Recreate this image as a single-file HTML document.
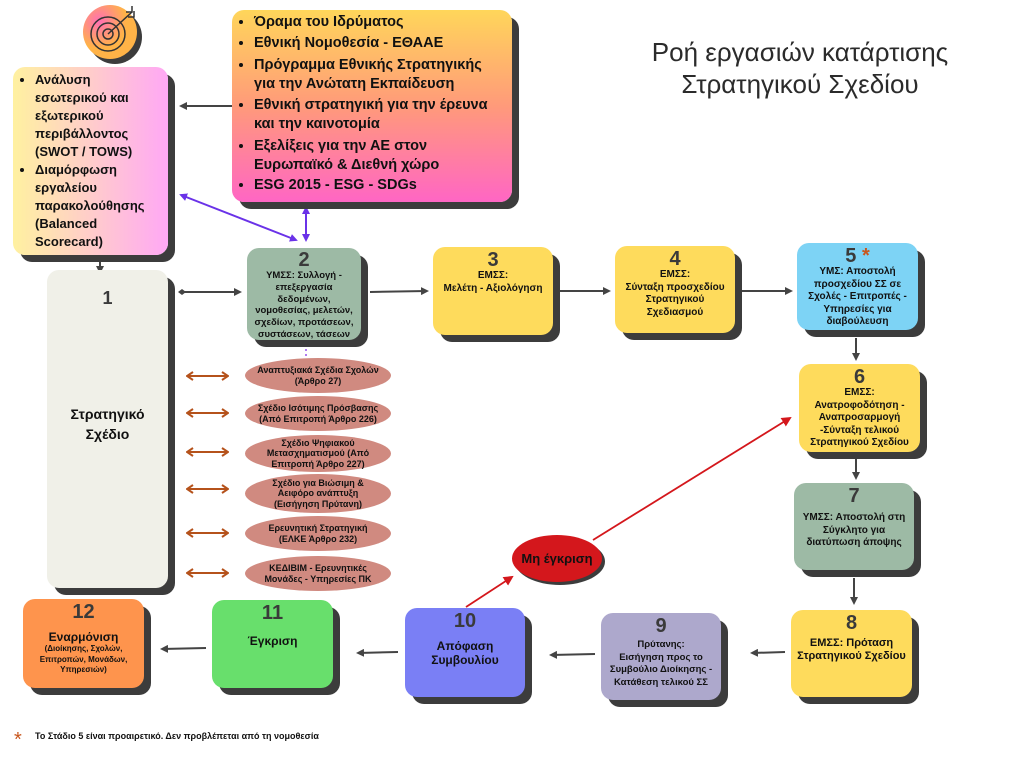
<!DOCTYPE html>
<html><head><meta charset="utf-8"><style>
body{margin:0;width:1024px;height:768px;background:#fff;position:relative;overflow:hidden;font-family:"Liberation Sans","Noto Sans CJK SC",sans-serif;color:#111}
.b{position:absolute;border-radius:12px;box-shadow:7px 7px 0 #3c3c3c;text-align:center;font-weight:bold;font-size:10px;line-height:12.5px;box-sizing:border-box;padding:2px 3px;overflow:hidden}
.n{font-size:20px;line-height:20px;color:#3a3a3a;display:block;margin-top:1px}
.ov{position:absolute;left:245px;width:146px;height:35px;border-radius:50%;background:#d08a80;font-size:9px;font-weight:bold;line-height:10.5px;text-align:center;display:flex;align-items:center;justify-content:center;box-sizing:border-box;padding:0 12px}
ul{margin:0;padding-left:18px}
li{margin:0}
svg{position:absolute;left:0;top:0}
</style></head><body>
<svg width="1024" height="768">
<defs>
<marker id="ad" markerUnits="userSpaceOnUse" markerWidth="8" markerHeight="8" refX="6" refY="4" orient="auto"><path d="M0,0 L8,4 L0,8 z" fill="#444"/></marker>
<marker id="ap" markerUnits="userSpaceOnUse" markerWidth="8" markerHeight="8" refX="6" refY="4" orient="auto-start-reverse"><path d="M0,0 L8,4 L0,8 z" fill="#6a32e8"/></marker>
<marker id="ao" markerUnits="userSpaceOnUse" markerWidth="8" markerHeight="10" refX="7" refY="5" orient="auto-start-reverse"><path d="M1,1 L7,5 L1,9" fill="none" stroke="#b5521b" stroke-width="2"/></marker>
<marker id="ar" markerUnits="userSpaceOnUse" markerWidth="10" markerHeight="10" refX="8" refY="5" orient="auto"><path d="M0,0 L10,5 L0,10 z" fill="#d4171c"/></marker>
<marker id="dk" markerUnits="userSpaceOnUse" markerWidth="8" markerHeight="8" refX="4" refY="4" orient="auto"><path d="M0,4 L4,1 L8,4 L4,7 z" fill="#444"/></marker>
<radialGradient id="tg" cx="30%" cy="30%"><stop offset="0" stop-color="#ff6fb5"/><stop offset="1" stop-color="#ffb347"/></radialGradient>
</defs>
<g stroke="#444" stroke-width="2" fill="none">
<line x1="232" y1="106" x2="181" y2="106" marker-end="url(#ad)"/>
<line x1="100" y1="258" x2="100" y2="272" marker-end="url(#ad)"/>
<line x1="182" y1="292" x2="240" y2="292" marker-start="url(#dk)" marker-end="url(#ad)"/>
<line x1="370" y1="292" x2="427" y2="291" marker-end="url(#ad)"/>
<line x1="560" y1="291" x2="609" y2="291" marker-end="url(#ad)"/>
<line x1="742" y1="291" x2="791" y2="291" marker-end="url(#ad)"/>
<line x1="856" y1="338" x2="856" y2="359" marker-end="url(#ad)"/>
<line x1="856" y1="459" x2="856" y2="478" marker-end="url(#ad)"/>
<line x1="854" y1="578" x2="854" y2="603" marker-end="url(#ad)"/>
<line x1="785" y1="652" x2="752" y2="653" marker-end="url(#ad)"/>
<line x1="595" y1="654" x2="551" y2="655" marker-end="url(#ad)"/>
<line x1="398" y1="652" x2="358" y2="653" marker-end="url(#ad)"/>
<line x1="206" y1="648" x2="162" y2="649" marker-end="url(#ad)"/>
</g>
<g stroke="#6a32e8" stroke-width="2" fill="none">
<line x1="306" y1="208" x2="306" y2="240" marker-start="url(#ap)" marker-end="url(#ap)"/>
<line x1="181" y1="195" x2="296" y2="240" marker-start="url(#ap)" marker-end="url(#ap)"/>
<line x1="306" y1="344" x2="306" y2="358" stroke="#b07cf0" stroke-dasharray="2 3"/>
</g>
<g stroke="#b5521b" stroke-width="2">
<line x1="187" y1="376" x2="228" y2="376" marker-start="url(#ao)" marker-end="url(#ao)"/>
<line x1="187" y1="413" x2="228" y2="413" marker-start="url(#ao)" marker-end="url(#ao)"/>
<line x1="187" y1="452" x2="228" y2="452" marker-start="url(#ao)" marker-end="url(#ao)"/>
<line x1="187" y1="489" x2="228" y2="489" marker-start="url(#ao)" marker-end="url(#ao)"/>
<line x1="187" y1="533" x2="228" y2="533" marker-start="url(#ao)" marker-end="url(#ao)"/>
<line x1="187" y1="573" x2="228" y2="573" marker-start="url(#ao)" marker-end="url(#ao)"/>
</g>
<g stroke="#d4171c" stroke-width="1.8">
<line x1="466" y1="607" x2="512" y2="577" marker-end="url(#ar)"/>
<line x1="593" y1="540" x2="790" y2="418" marker-end="url(#ar)"/>
</g>
<circle cx="115" cy="37" r="27" fill="#3c3c3c"/>
<circle cx="110" cy="32" r="27" fill="url(#tg)"/>
<g fill="none" stroke="#333" stroke-width="1.5"><circle cx="108" cy="34" r="17"/><circle cx="108" cy="34" r="11"/><circle cx="108" cy="34" r="5"/><line x1="108" y1="34" x2="132" y2="12"/><path d="M126 12 l6 0 l0 -6 M128 17 l6 0 l0 -6"/></g>
<text x="14" y="746" font-size="20" fill="#c8561d" font-family="Liberation Sans,sans-serif">*</text>
</svg>

<div class="b" style="left:13px;top:67px;width:155px;height:188px;background:linear-gradient(90deg,#fff1a0,#ffa8f5);text-align:left;font-size:13px;line-height:18px;padding:4px 18px 0 4px">
<ul><li>Ανάλυση εσωτερικού και εξωτερικού περιβάλλοντος (SWOT / TOWS)</li><li>Διαμόρφωση εργαλείου παρακολούθησης (Balanced Scorecard)</li></ul></div>

<div class="b" style="left:232px;top:10px;width:280px;height:192px;background:linear-gradient(180deg,#ffd65a,#ff9a7a 50%,#ff66c4);text-align:left;font-size:14.5px;line-height:21px;padding:2px 18px 0 4px">
<ul><li>Όραμα του Ιδρύματος</li><li>Εθνική Νομοθεσία - ΕΘΑΑΕ</li><li style="line-height:19px;margin-top:2px">Πρόγραμμα Εθνικής Στρατηγικής για την Ανώτατη Εκπαίδευση</li><li style="line-height:19px;margin-top:2px">Εθνική στρατηγική για την έρευνα και την καινοτομία</li><li style="line-height:19px;margin-top:3px">Εξελίξεις για την ΑΕ στον Ευρωπαϊκό &amp; Διεθνή χώρο</li><li>ESG 2015 - ESG - SDGs</li></ul></div>

<div style="position:absolute;left:600px;top:36px;width:400px;text-align:center;font-size:26px;line-height:32px;color:#2b2b2b">Ροή εργασιών κατάρτισης<br>Στρατηγικού Σχεδίου</div>

<div class="b" style="left:47px;top:270px;width:121px;height:318px;background:#f0f0e8;font-size:14px;line-height:20px;padding-top:17px"><span class="n" style="font-size:18px;line-height:20px">1</span><div style="margin-top:96px">Στρατηγικό<br>Σχέδιο</div></div>

<div class="b" style="left:247px;top:248px;width:114px;height:92px;background:#9dbaa5;font-size:9.5px;line-height:11.8px;padding:1px 2px"><span class="n">2</span>ΥΜΣΣ: Συλλογή - επεξεργασία δεδομένων, νομοθεσίας, μελετών, σχεδίων, προτάσεων, συστάσεων, τάσεων</div>
<div class="b" style="left:433px;top:247px;width:120px;height:88px;background:#fedb5c"><span class="n">3</span>ΕΜΣΣ:<br>Μελέτη - Αξιολόγηση</div>
<div class="b" style="left:615px;top:246px;width:120px;height:87px;background:#fedb5c"><span class="n">4</span>ΕΜΣΣ:<br>Σύνταξη προσχεδίου Στρατηγικού Σχεδιασμού</div>
<div class="b" style="left:797px;top:243px;width:121px;height:87px;background:#7dd3f5;line-height:12.5px"><span class="n">5 <span style="color:#c8561d">*</span></span>ΥΜΣ: Αποστολή προσχεδίου ΣΣ σε Σχολές - Επιτροπές - Υπηρεσίες για διαβούλευση</div>
<div class="b" style="left:799px;top:364px;width:121px;height:88px;background:#fedb5c"><span class="n">6</span>ΕΜΣΣ:<br>Ανατροφοδότηση - Αναπροσαρμογή -Σύνταξη τελικού Στρατηγικού Σχεδίου</div>
<div class="b" style="left:794px;top:483px;width:120px;height:87px;background:#9dbaa5;padding:2px 8px"><span class="n">7</span><div style="margin-top:6px">ΥΜΣΣ: Αποστολή στη Σύγκλητο για διατύπωση άποψης</div></div>
<div class="b" style="left:791px;top:610px;width:121px;height:87px;background:#fedb5c;font-size:11px"><span class="n">8</span><div style="margin-top:4px">ΕΜΣΣ: Πρόταση Στρατηγικού Σχεδίου</div></div>
<div class="b" style="left:601px;top:613px;width:120px;height:87px;background:#ada8cc;font-size:9.5px"><span class="n">9</span><div style="margin-top:3px">Πρύτανης:<br>Εισήγηση προς το Συμβούλιο Διοίκησης - Κατάθεση τελικού ΣΣ</div></div>
<div class="b" style="left:405px;top:608px;width:120px;height:89px;background:#7a7ff5;font-size:12px;line-height:14px"><span class="n">10</span><div style="margin-top:8px">Απόφαση Συμβουλίου</div></div>
<div class="b" style="left:212px;top:600px;width:121px;height:88px;background:#68df6c;font-size:12px"><span class="n">11</span><div style="margin-top:12px">Έγκριση</div></div>
<div class="b" style="left:23px;top:599px;width:121px;height:89px;background:#fe944d;font-size:12px;line-height:14px;padding:2px 10px"><span class="n">12</span><div style="margin-top:8px">Εναρμόνιση</div><div style="font-size:8px;line-height:10.5px">(Διοίκησης, Σχολών, Επιτροπών, Μονάδων, Υπηρεσιών)</div></div>

<div class="ov" style="top:358px">Αναπτυξιακά Σχέδια Σχολών (Άρθρο 27)</div>
<div class="ov" style="top:396px">Σχέδιο Ισότιμης Πρόσβασης (Από Επιτροπή Άρθρο 226)</div>
<div class="ov" style="top:435px;height:37px">Σχέδιο Ψηφιακού Μετασχηματισμού (Από Επιτροπή Άρθρο 227)</div>
<div class="ov" style="top:474px;height:39px">Σχέδιο για Βιώσιμη &amp; Αειφόρο ανάπτυξη (Εισήγηση Πρύτανη)</div>
<div class="ov" style="top:516px">Ερευνητική Στρατηγική (ΕΛΚΕ Άρθρο 232)</div>
<div class="ov" style="top:556px">ΚΕΔΙΒΙΜ - Ερευνητικές Μονάδες - Υπηρεσίες ΠΚ</div>

<div style="position:absolute;left:512px;top:535px;width:90px;height:47px;border-radius:50%;background:#d4171c;box-shadow:3px 3px 0 #3c3c3c;font-weight:bold;font-size:13px;display:flex;align-items:center;justify-content:center">Μη έγκριση</div>

<div style="position:absolute;left:35px;top:731px;font-size:9px;font-weight:bold">Το Στάδιο 5 είναι προαιρετικό. Δεν προβλέπεται από τη νομοθεσία</div>
</body></html>
